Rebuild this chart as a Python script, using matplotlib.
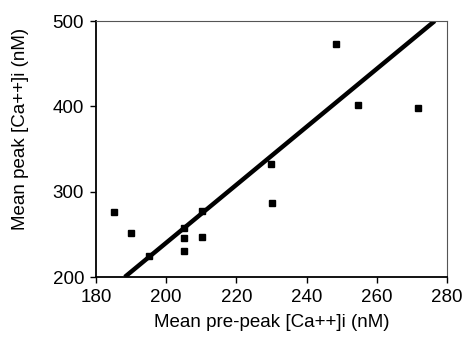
import matplotlib

matplotlib.use("Agg")
import matplotlib.pyplot as plt

plt.rcParams["font.family"] = ["Liberation Sans", "DejaVu Sans"]

# mean pre-peak vs mean peak [Ca++]i, one point per cell group
pre_peak = [185.0, 190.1, 195.0, 205.1, 205.1, 205.1, 210.2, 210.1, 229.8, 230.0, 248.4, 254.6, 271.7]
peak = [276, 251, 225, 257, 246, 231, 277, 247, 332, 287, 473, 401, 398]

# regression line endpoints
fit_x = [188.2, 276.5]
fit_y = [200, 500]

x_ticks = [180, 200, 220, 240, 260, 280]
y_ticks = [200, 300, 400, 500]

fig = plt.figure(figsize=(4.63, 3.51), dpi=100)
ax = fig.add_axes([96 / 463, 1 - 277 / 351, 351 / 463, 256 / 351])

ax.plot(fit_x, fit_y, color="black", lw=3.2, solid_capstyle="butt", zorder=2)
ax.plot(pre_peak, peak, "s", ms=5, color="black", zorder=3)

ax.set_xlim(180, 280)
ax.set_ylim(200, 500)
ax.set_xticks(x_ticks)
ax.set_yticks(y_ticks)
ax.tick_params(direction="out", length=4.5, width=1, labelsize=13.5, pad=4)
ax.set_xlabel("Mean pre-peak [Ca++]i (nM)", fontsize=13.5, labelpad=6)
ax.set_ylabel("Mean peak [Ca++]i (nM)", fontsize=13.5, va="center")
# label in the original sits a little above the axis centre
ax.yaxis.set_label_coords(-0.214, 0.58)

for side in ("left", "bottom"):
    ax.spines[side].set_linewidth(1.3)
for side in ("top", "right"):
    ax.spines[side].set_linewidth(0.8)
    ax.spines[side].set_color("#555555")

fig.savefig("out.png", dpi=100)
